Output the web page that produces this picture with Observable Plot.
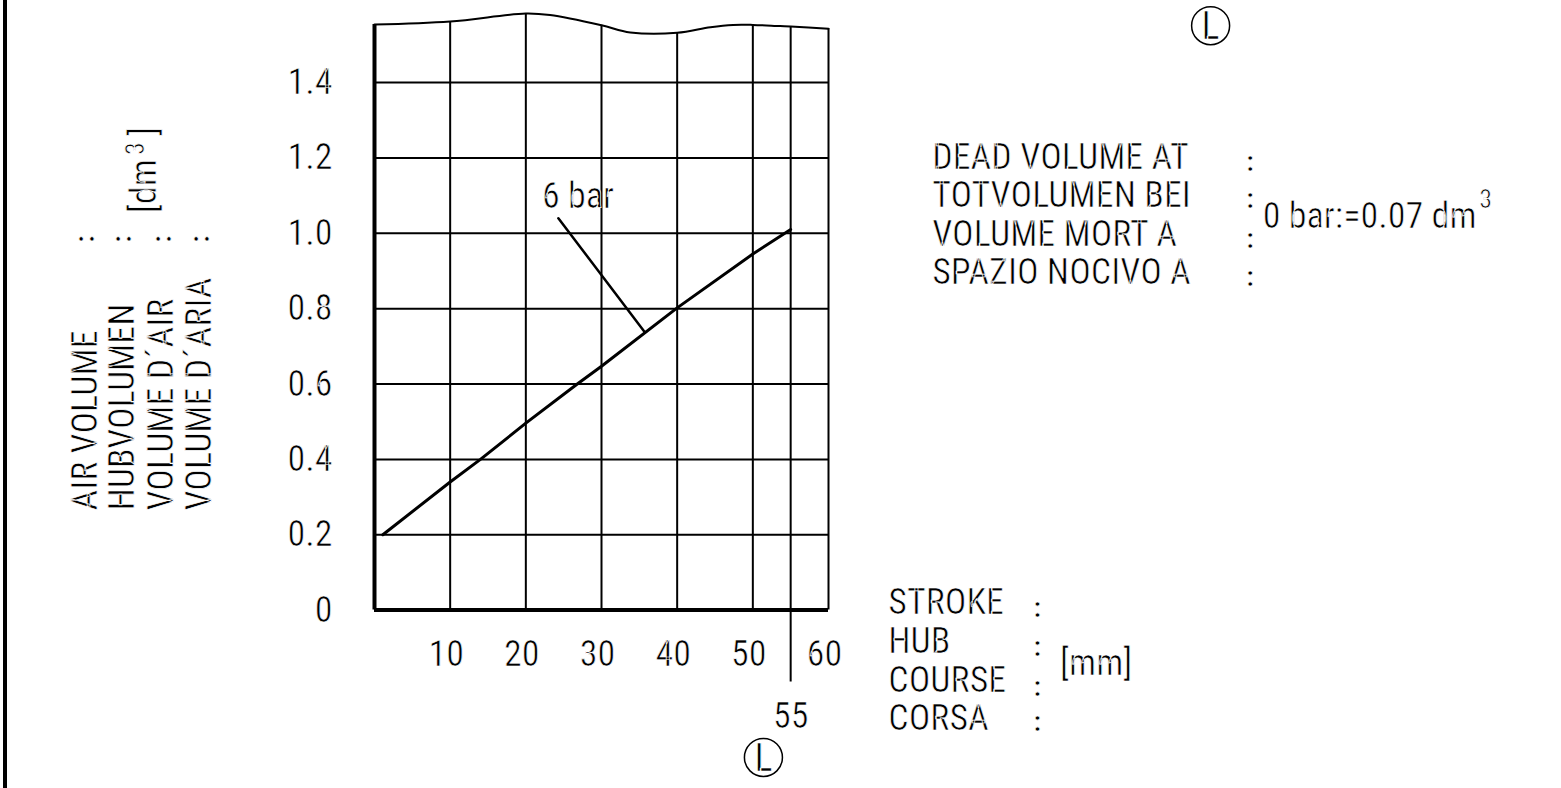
<!DOCTYPE html>
<html><head><meta charset="utf-8">
<script src="https://cdn.jsdelivr.net/npm/d3@7"></script>
<script src="https://cdn.jsdelivr.net/npm/@observablehq/plot@0.6"></script>
<style>
html,body{margin:0;padding:0;background:#fff;width:1561px;height:788px;overflow:hidden;}
#frame{position:absolute;left:3px;top:0;width:4px;height:788px;background:#000;}
#chart{position:absolute;left:0;top:0;}
#chart svg text{stroke:#fff;stroke-width:0.7px;paint-order:normal;}
</style></head><body>
<div id="chart"></div><div id="frame"></div>
<script>
// ---- data ----
const strokeMm  = [1.1, 10, 14, 20, 26.8, 30, 40, 50, 55];
const volume6   = [0.2, 0.34, 0.4, 0.496, 0.6, 0.647, 0.802, 0.945, 1.01];
const xTicks    = [10, 20, 30, 40, 50, 60];
const yTicks    = [0, 0.2, 0.4, 0.6, 0.8, 1.0, 1.2, 1.4];
const gridX     = [10, 20, 30, 40, 50];
const gridY     = [0.2, 0.4, 0.6, 0.8, 1.0, 1.2, 1.4];
const waveX     = [0, 10, 20, 23.2, 30, 33.8, 40, 44.4, 47.4, 50, 53.6, 55, 60];
const waveY     = [1.554, 1.562, 1.583, 1.579, 1.552, 1.533, 1.532, 1.547, 1.553, 1.553, 1.55, 1.549, 1.543];
const markStroke = 55;
const curveLabel = "6 bar";
const airLabels    = ["AIR VOLUME", "HUBVOLUMEN", "VOLUME D´AIR", "VOLUME D´ARIA"];
const deadLabels   = ["DEAD VOLUME AT", "TOTVOLUMEN BEI", "VOLUME MORT A", "SPAZIO NOCIVO A"];
const strokeLabels = ["STROKE", "HUB", "COURSE", "CORSA"];
const deadValue = "0 bar:=0.07 dm";
const expText = "3";
const yUnitOpen = "[dm";
const yUnitClose = "]";
const xUnit = "[mm]";

// ---- layout (positions in data units) ----
const airX = [-38.2, -33.3, -28.1, -23.1], airY0 = 0.264, airColonY = 0.985;
const yUnitOpenPos = {x: -30.4, y: 1.125};
const yUnitExpPos = {x: -31.6, y: 1.225};
const yUnitClosePos = {x: -30.4, y: 1.27};
const deadX = 73.7, deadY = [1.201, 1.100, 0.996, 0.895], deadColonX = 115.7;
const deadColonY = [1.19, 1.09, 0.985, 0.885];
const deadValuePos = {x: 117.4, y: 1.045};
const deadExpPos = {x: 146.0, y: 1.09};
const strokeX = 67.9, strokeY = [0.020, -0.083, -0.187, -0.288], strokeColonX = 87.6;
const strokeColonY = [0.006, -0.097, -0.203, -0.298];
const xUnitPos = {x: 90.6, y: -0.142};
const leaderX = [24.3, 35.7], leaderY = [1.04, 0.738];
const labelPos = {x: 26.9, y: 1.098};
const circles = [{x: 51.4, y: -0.391}, {x: 110.5, y: 1.551}];

const waveAt = x => waveY[waveX.indexOf(x)];
const curve = strokeMm.map((x, i) => ({x, y: volume6[i]}));
const wave = waveX.map((x, i) => ({x, y: waveY[i]}));
const FS = 36, CS = 28;
const font = "'Liberation Sans Narrow', 'Roboto Condensed', 'DejaVu Sans Condensed', sans-serif";

const chart = Plot.plot({
  width: 1561, height: 788,
  marginLeft: 374, marginRight: 733, marginTop: 6.7, marginBottom: 178.4,
  x: {domain: [0, 60]},
  y: {domain: [0, 1.6]},
  style: {fontFamily: font, fontSize: FS + "px", background: "#fff", color: "#000"},
  marks: [
    Plot.ruleY(gridY, {x1: 0, x2: 60, stroke: "#000", strokeWidth: 2}),
    Plot.ruleX(gridX, {x: d => d, y1: 0, y2: d => waveAt(d), stroke: "#000", strokeWidth: 2}),
    Plot.ruleX([markStroke], {x: d => d, y1: -0.191, y2: d => waveAt(d), stroke: "#000", strokeWidth: 2}),
    Plot.ruleX([60], {x: d => d, y1: 0, y2: d => waveAt(d), stroke: "#000", strokeWidth: 2}),
    Plot.ruleX([0], {x: d => d, y1: 0, y2: d => waveAt(d), stroke: "#000", strokeWidth: 4}),
    Plot.ruleY([0], {x1: 0, x2: 60, stroke: "#000", strokeWidth: 4}),
    Plot.line(wave, {x: "x", y: "y", curve: "catmull-rom", stroke: "#000", strokeWidth: 2}),
    Plot.line(curve, {x: "x", y: "y", stroke: "#000", strokeWidth: 3}),
    Plot.line(leaderX.map((x, i) => ({x, y: leaderY[i]})), {x: "x", y: "y", stroke: "#000", strokeWidth: 2.5}),
    Plot.text([curveLabel], {x: labelPos.x, y: labelPos.y, text: d => d, fontSize: FS}),
    Plot.axisX({ticks: xTicks, tickSize: 0, tickPadding: 30, fontSize: FS, dx: -4, label: null}),
    Plot.axisY({ticks: yTicks, tickSize: 0, tickPadding: 42, fontSize: FS, label: null,
                tickFormat: d => d === 0 ? "0" : d.toFixed(1)}),
    // left rotated labels
    Plot.text(airLabels, {x: (d, i) => airX[i], y: airY0, text: d => d, rotate: -90, textAnchor: "start", fontSize: FS}),
    Plot.text(airLabels, {x: (d, i) => airX[i], y: airColonY, text: () => ":", rotate: -90, fontSize: CS, fontWeight: "bold"}),
    Plot.text([yUnitOpen], {x: yUnitOpenPos.x, y: yUnitOpenPos.y, text: d => d, rotate: -90, fontSize: FS}),
    Plot.text([expText], {x: yUnitExpPos.x, y: yUnitExpPos.y, text: d => d, rotate: -90, fontSize: 26}),
    Plot.text([yUnitClose], {x: yUnitClosePos.x, y: yUnitClosePos.y, text: d => d, rotate: -90, fontSize: FS}),
    // right block
    Plot.text(deadLabels, {x: deadX, y: (d, i) => deadY[i], text: d => d, textAnchor: "start", fontSize: FS}),
    Plot.text(deadLabels, {x: deadColonX, y: (d, i) => deadColonY[i], text: () => ":", fontSize: CS, fontWeight: "bold"}),
    Plot.text([deadValue], {x: deadValuePos.x, y: deadValuePos.y, text: d => d, textAnchor: "start", fontSize: FS}),
    Plot.text([expText], {x: deadExpPos.x, y: deadExpPos.y, text: d => d, textAnchor: "start", fontSize: 26}),
    // stroke block
    Plot.text(strokeLabels, {x: strokeX, y: (d, i) => strokeY[i], text: d => d, textAnchor: "start", fontSize: FS}),
    Plot.text(strokeLabels, {x: strokeColonX, y: (d, i) => strokeColonY[i], text: () => ":", fontSize: CS, fontWeight: "bold"}),
    Plot.text([xUnit], {x: xUnitPos.x, y: xUnitPos.y, text: d => d, textAnchor: "start", fontSize: FS}),
    Plot.text([String(markStroke)], {x: markStroke, y: -0.283, text: d => d, fontSize: FS}),
    // circled L markers
    Plot.dot(circles, {x: "x", y: "y", r: 19, stroke: "#000", strokeWidth: 1.5, fill: "none"}),
    Plot.text(circles, {x: "x", y: "y", text: () => "L", fontSize: 38, dy: 1})
  ]
});
document.getElementById("chart").appendChild(chart);
</script></body></html>
